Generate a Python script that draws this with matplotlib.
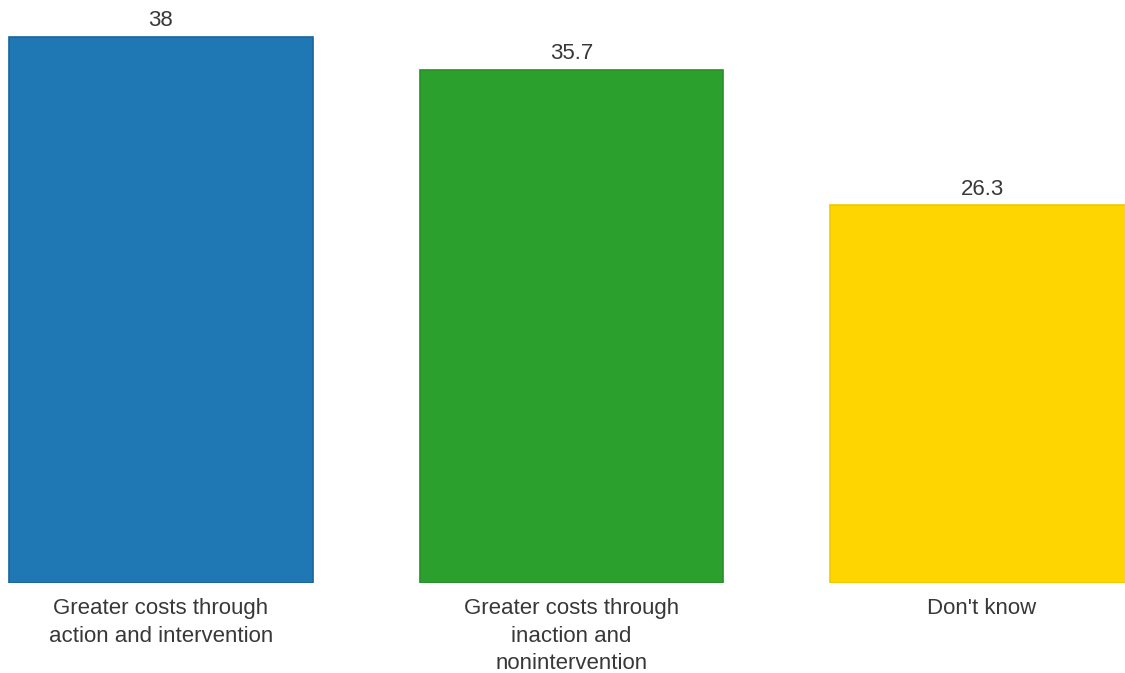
import matplotlib
matplotlib.use("Agg")
import matplotlib.pyplot as plt

plt.rcParams['font.family'] = ['Liberation Sans', 'DejaVu Sans']

categories = [
    "Greater costs through\naction and intervention",
    "Greater costs through\ninaction and\nnonintervention",
    "Don't know",
]
values = [38, 35.7, 26.3]
value_labels = ["38", "35.7", "26.3"]
fill_colors = ["#1f77b4", "#2ca02c", "#ffd500"]
edge_colors = ["#16659c", "#27902a", "#f0c800"]

fig = plt.figure(figsize=(11.25, 6.73), dpi=100)
ax = fig.add_axes([0, 90 / 673, 1, 583 / 673])

x = list(range(len(categories)))
bars = ax.bar(x, values, width=0.74, color=fill_colors,
              edgecolor=edge_colors, linewidth=1.2)

for bar, lab in zip(bars, value_labels):
    ax.annotate(lab, (bar.get_x() + bar.get_width() / 2, bar.get_height()),
                xytext=(0, 4), textcoords="offset points",
                ha="center", va="bottom", fontsize=16, color="#383838")

ax.set_xlim(-0.392, 2.348)
ax.set_ylim(0, 40.57)
ax.set_xticks(x)
ax.set_xticklabels(categories, fontsize=16, color="#383838", linespacing=1.4)
ax.tick_params(axis="x", length=0, pad=11)
ax.set_yticks([])
for s in ax.spines.values():
    s.set_visible(False)

fig.savefig("out.png", dpi=100)
